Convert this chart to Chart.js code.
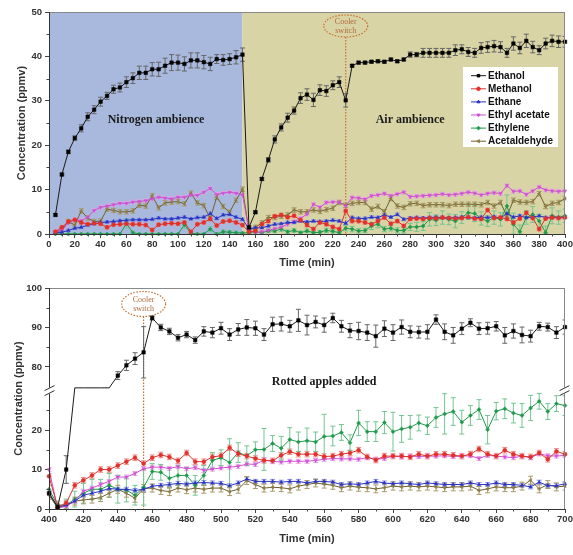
<!DOCTYPE html>
<html>
<head>
<meta charset="utf-8">
<script src="https://cdn.jsdelivr.net/npm/chart.js@4.4.0/dist/chart.umd.min.js"></script>
<style>
  html, body { margin: 0; padding: 0; background: #fff; }
  #top { position: absolute; left: 0; top: 0; width: 573px; height: 275px; }
  #bottom { position: absolute; left: 0; top: 275px; width: 573px; height: 280px; }
</style>
</head>
<body>
<div id="top"><canvas id="c1"></canvas></div>
<div id="bottom"><canvas id="c2"></canvas></div>
<script>
// ---- data ----
const seriesNames = ['Ethanol', 'Methanol', 'Ethane', 'Ethyl acetate', 'Ethylene', 'Acetaldehyde'];

const timeTop = [5, 10, 15, 20, 25, 30, 35, 40, 45, 50, 55, 60, 65, 70, 75, 80, 85, 90, 95, 100,
  105, 110, 115, 120, 125, 130, 135, 140, 145, 150, 155, 160, 165, 170, 175, 180, 185, 190, 195, 200,
  205, 210, 215, 220, 225, 230, 235, 240, 245, 250, 255, 260, 265, 270, 275, 280, 285, 290, 295, 300,
  305, 310, 315, 320, 325, 330, 335, 340, 345, 350, 355, 360, 365, 370, 375, 380, 385, 390, 395, 400];

const ethanolTop = [4.3, 13.4, 18.5, 21.6, 23.8, 26.4, 28.0, 29.8, 31.1, 32.6,
  33.0, 34.2, 35.1, 36.3, 36.3, 37.1, 37.1, 37.9, 38.6, 38.6,
  38.3, 39.1, 39.1, 38.7, 38.3, 39.4, 39.2, 39.4, 39.8, 40.4,
  1.5, 4.9, 12.4, 16.7, 21.3, 24.0, 26.2, 27.8, 30.6, 31.4,
  30.2, 32.4, 32.2, 33.5, 34.2, 30.1, 37.9, 38.6, 38.6, 38.8,
  38.9, 38.8, 39.3, 38.9, 39.3, 40.4, 40.4, 40.8, 40.8, 40.8,
  40.8, 40.8, 41.4, 41.6, 41.0, 40.8, 41.9, 42.1, 42.3, 42.1,
  40.8, 42.9, 41.9, 43.5, 42.1, 41.4, 42.9, 43.5, 43.3, 43.3];
const ethanolTopErr = [0.3, 0.3, 0.4, 0.5, 0.8, 0.9, 0.9, 1.0, 0.8, 0.9,
  1.0, 1.2, 1.2, 1.5, 1.5, 1.5, 1.6, 1.7, 1.8, 1.7,
  1.6, 1.7, 1.7, 1.5, 1.5, 1.0, 1.2, 1.2, 1.5, 1.5,
  0.3, 0.3, 0.3, 0.5, 0.8, 0.8, 1.0, 0.8, 1.2, 1.3,
  1.5, 1.2, 1.2, 1.0, 1.2, 1.5, 0.3, 0.3, 0.3, 0.3,
  0.3, 0.3, 0.3, 0.3, 0.3, 0.6, 0.5, 1.0, 1.0, 1.0,
  1.0, 1.0, 1.2, 1.0, 1.0, 1.0, 1.2, 1.2, 1.3, 1.2,
  1.0, 1.5, 1.3, 1.5, 1.3, 1.0, 1.2, 1.3, 1.3, 1.2];
const methanolTop = [0.5, 1.5, 2.8, 3.2, 2.6, 2.2, 2.4, 2.3, 1.5, 2.1,
  2.2, 2.3, 2.2, 2.2, 2.0, 0.9, 2.1, 2.3, 2.4, 2.3,
  2.6, 0.5, 2.2, 2.6, 3.4, 1.9, 2.8, 3.0, 2.6, 2.0,
  0.5, 0.7, 2.2, 2.9, 4.0, 4.3, 3.8, 4.1, 3.1, 2.0,
  1.1, 2.6, 2.2, 1.6, 1.1, 5.2, 2.9, 2.9, 2.6, 2.2,
  2.9, 3.7, 2.3, 2.9, 1.8, 3.4, 3.5, 3.4, 3.6, 3.5,
  3.7, 3.6, 3.5, 3.6, 3.8, 3.5, 3.4, 5.4, 3.6, 3.7,
  3.4, 2.6, 3.5, 4.8, 3.6, 1.1, 3.5, 3.7, 3.6, 3.7];
const ethaneTop = [0.3, 0.4, 0.8, 1.3, 1.5, 2.0, 2.3, 2.6, 2.7, 2.8,
  3.0, 3.1, 3.2, 3.2, 3.2, 3.3, 3.6, 3.4, 3.4, 3.6,
  3.8, 3.4, 3.7, 3.8, 4.6, 3.5, 4.3, 4.4, 3.8, 3.3,
  1.2, 1.4, 1.4, 1.8, 2.2, 2.3, 2.6, 2.6, 2.9, 2.7,
  2.9, 2.8, 2.9, 3.1, 2.9, 2.4, 3.7, 3.5, 3.5, 3.8,
  3.7, 4.3, 3.8, 4.4, 3.3, 3.6, 3.7, 3.6, 3.7, 3.8,
  3.7, 3.6, 3.7, 3.8, 3.7, 3.6, 3.8, 3.7, 3.9, 3.6,
  4.6, 3.8, 4.1, 3.7, 3.8, 4.1, 3.7, 3.8, 3.7, 3.8];
const ethylAcetateTop = [0.5, 0.8, 2.5, 3.2, 3.0, 3.8, 5.3, 6.0, 6.3, 6.6,
  6.9, 6.9, 7.2, 7.3, 7.5, 7.9, 8.3, 8.1, 7.9, 8.3,
  8.3, 8.8, 8.7, 9.4, 10.3, 8.9, 9.2, 9.4, 9.2, 8.8,
  0.8, 0.3, 0.5, 0.8, 1.2, 1.5, 2.2, 2.8, 3.5, 4.5,
  6.7, 6.0, 7.1, 7.2, 7.2, 6.3, 8.2, 8.1, 7.8, 8.6,
  8.8, 9.1, 8.6, 9.0, 9.4, 8.4, 8.5, 8.6, 8.7, 8.8,
  9.0, 8.8, 8.9, 9.1, 9.4, 9.2, 8.8, 9.1, 9.3, 9.1,
  10.9, 9.6, 9.7, 8.9, 9.7, 10.6, 9.9, 9.7, 9.6, 9.7];
const ethyleneTop = [0, 0, 0, 0, 0, 0, 0, 0, 0, 0,
  0, 2.4, 0.3, 0, 0, 0, 0, 0, 0, 0,
  2.1, 0.2, 0, 0, 1.1, 0, 0.5, 0.4, 0.3, 0.2,
  0.3, 0.5, 0.3, 0.7, 0.7, 1.1, 0.5, 0.8, 0.3, 0.7,
  0.3, 0.4, 0.8, 0.6, 0.3, 1.3, 1.1, 0.7, 0.8, 1.8,
  2.2, 1.1, 1.3, 0.8, 0.8, 1.6, 1.6, 1.8, 3.3, 3.1,
  3.7, 3.3, 2.9, 3.7, 4.8, 4.6, 3.5, 2.9, 3.7, 3.3,
  6.3, 2.2, 0.5, 3.7, 4.4, 2.9, 0.3, 4.1, 3.7, 4.1];
const ethyleneTopErr = [0.1, 0.1, 0.1, 0.1, 0.1, 0.1, 0.1, 0.1, 0.1, 0.1,
  0.1, 1.0, 0.3, 0.1, 0.1, 0.1, 0.1, 0.1, 0.1, 0.1,
  0.8, 0.2, 0.1, 0.1, 0.6, 0.1, 0.4, 0.4, 0.3, 0.2,
  0.3, 0.3, 0.3, 0.4, 0.4, 0.5, 0.4, 0.4, 0.3, 0.4,
  0.3, 0.4, 0.5, 0.4, 0.3, 0.6, 0.6, 0.5, 0.5, 0.8,
  0.8, 0.6, 0.6, 0.6, 0.6, 0.8, 1.0, 1.0, 1.5, 1.2,
  1.5, 1.2, 1.5, 1.3, 1.5, 1.8, 1.5, 1.2, 1.5, 1.5,
  2.5, 2.5, 1.5, 1.5, 1.8, 1.5, 1.5, 1.8, 1.5, 1.5];
const acetaldehydeTop = [0.3, 1.0, 2.8, 2.0, 5.2, 3.6, 2.8, 2.9, 5.6, 5.3,
  5.0, 5.0, 5.2, 6.5, 6.3, 8.6, 5.9, 7.0, 7.2, 7.3,
  6.8, 9.2, 7.0, 6.4, 3.5, 8.3, 6.2, 4.9, 7.6, 10.1,
  0.8, 1.5, 2.5, 3.7, 3.7, 4.0, 4.3, 5.4, 5.0, 5.0,
  5.4, 5.1, 5.5, 5.8, 7.1, 6.5, 6.9, 7.1, 7.1, 5.6,
  6.2, 5.0, 8.0, 6.3, 6.0, 6.8, 6.9, 6.4, 6.6, 6.6,
  6.6, 6.4, 6.7, 6.7, 6.7, 6.7, 6.6, 7.1, 6.3, 7.1,
  4.0, 7.6, 7.2, 7.1, 7.3, 9.1, 6.2, 6.9, 7.1, 8.0];

const timeBottom = [400, 405, 410, 415, 420, 425, 430, 435, 440, 445, 450, 455, 460, 465, 470, 475,
  480, 485, 490, 495, 500, 505, 510, 515, 520, 525, 530, 535, 540, 545, 550, 555, 560, 565, 570, 575,
  580, 585, 590, 595, 600, 605, 610, 615, 620, 625, 630, 635, 640, 645, 650, 655, 660, 665, 670, 675,
  680, 685, 690, 695, 700];

// ethanol went off-scale between 415 and 435 min: drawn flat at the axis break
const ethanolBottomClipped = [415, 420, 425, 430, 435];
const ethanolBottom = [4.0, 0.5, 10.0, 74.7, 74.7, 74.7, 74.7, 74.7, 77.8, 80.4,
  82.1, 83.7, 92.4, 90.0, 89.0, 87.4, 88.2, 86.8, 89.0, 88.7,
  89.8, 88.2, 89.5, 90.0, 89.8, 88.2, 90.8, 90.9, 90.3, 91.8,
  90.6, 91.4, 90.6, 92.4, 90.3, 89.2, 89.1, 88.7, 87.8, 89.7,
  88.7, 90.1, 88.9, 88.8, 88.9, 92.0, 88.9, 88.0, 89.7, 91.2,
  89.7, 89.8, 90.3, 88.0, 89.1, 88.1, 87.8, 90.3, 90.1, 88.7,
  90.1];
const ethanolBottomErr = [0.5, 0.3, 3.5, 0, 0, 0, 0, 0, 1.0, 1.3,
  1.5, 6.5, 0.5, 0.8, 0.8, 0.8, 0.8, 0.8, 1.2, 1.3,
  1.5, 1.5, 1.5, 2.0, 1.8, 1.5, 1.8, 1.8, 1.5, 2.8,
  2.5, 1.5, 1.8, 1.2, 1.5, 1.8, 2.2, 2.0, 2.8, 2.0,
  2.0, 1.8, 1.5, 1.5, 1.8, 1.2, 2.0, 2.0, 1.5, 1.0,
  1.5, 1.5, 1.2, 2.0, 1.8, 2.0, 1.5, 1.0, 1.0, 1.5,
  1.8];
const methanolBottom = [8.3, 0.5, 1.5, 6.0, 7.3, 8.5, 10.0, 10.0, 11.0, 12.0,
  13.0, 11.5, 13.0, 13.7, 13.2, 12.2, 14.2, 12.0, 12.0, 13.2,
  13.5, 15.5, 14.0, 13.4, 12.8, 12.3, 12.2, 13.6, 14.5, 13.9,
  13.9, 13.9, 13.3, 13.4, 13.9, 14.2, 14.9, 13.2, 12.4, 13.4,
  13.4, 13.4, 13.2, 13.9, 13.4, 13.9, 13.9, 13.6, 13.4, 13.9,
  15.2, 13.9, 13.4, 14.9, 13.9, 13.4, 13.2, 14.2, 12.6, 14.6,
  13.9];
const ethaneBottom = [4.1, 0.5, 1.0, 2.0, 3.5, 4.0, 4.5, 5.2, 5.0, 5.0,
  4.7, 5.0, 5.8, 6.0, 6.2, 6.5, 6.3, 6.6, 6.7, 6.6,
  6.5, 5.9, 6.6, 7.6, 7.0, 7.0, 7.0, 6.8, 7.0, 7.0,
  6.6, 7.0, 7.0, 6.8, 6.2, 6.4, 6.2, 6.6, 7.0, 6.6,
  6.4, 6.6, 6.4, 6.2, 6.6, 6.4, 6.2, 6.2, 6.2, 6.6,
  6.2, 6.2, 6.6, 6.2, 6.2, 6.0, 5.6, 6.8, 5.9, 5.9,
  6.4];
const ethylAcetateBottom = [10.0, 0.3, 0.7, 2.0, 4.5, 5.3, 6.2, 7.0, 8.1, 8.1,
  9.0, 10.2, 10.6, 10.6, 10.3, 10.7, 10.2, 10.5, 9.8, 10.1,
  10.4, 10.6, 10.8, 11.4, 11.3, 12.4, 12.1, 11.9, 12.1, 12.1,
  12.1, 12.3, 12.6, 12.8, 12.7, 12.7, 12.6, 13.0, 12.6, 12.8,
  13.4, 13.2, 13.4, 13.3, 13.4, 13.4, 13.5, 13.3, 13.4, 13.5,
  12.8, 13.6, 13.4, 13.2, 13.0, 13.4, 13.0, 14.0, 13.5, 13.4,
  13.6];
const ethyleneBottom = [5.0, 1.0, 1.0, 2.5, 4.0, 5.0, 5.0, 6.0, 5.0, 4.8,
  3.5, 5.5, 9.5, 9.3, 7.8, 8.5, 8.5, 6.0, 8.5, 12.3,
  13.0, 11.8, 14.3, 13.5, 15.0, 15.1, 16.6, 15.4, 17.6, 17.0,
  17.3, 17.0, 18.4, 18.5, 19.4, 16.8, 21.8, 19.6, 19.6, 21.9,
  19.6, 20.3, 20.7, 21.8, 21.1, 23.2, 24.1, 24.7, 22.0, 23.7,
  25.2, 20.1, 24.8, 25.4, 24.3, 23.7, 25.6, 27.3, 24.7, 26.7,
  26.2];
const ethyleneBottomErr = [1.0, 1.0, 1.5, 2.0, 2.5, 2.5, 2.5, 3.0, 3.5, 3.0,
  2.5, 4.5, 2.0, 2.0, 2.5, 2.5, 2.0, 2.5, 2.5, 2.0,
  2.0, 6.0, 2.5, 2.5, 2.0, 5.3, 2.0, 3.0, 3.0, 2.5,
  3.2, 2.5, 5.6, 2.5, 2.0, 2.0, 3.2, 2.5, 2.5, 2.8,
  4.9, 3.4, 3.0, 2.0, 2.2, 2.5, 5.1, 3.5, 3.0, 2.5,
  2.5, 3.6, 2.2, 2.5, 2.5, 3.0, 3.2, 2.0, 2.0, 2.0,
  2.5];
const acetaldehydeBottom = [3.5, 0.3, 0.8, 2.0, 2.3, 2.5, 2.9, 4.0, 5.0, 4.0,
  2.7, 5.2, 5.3, 4.7, 4.4, 5.3, 4.9, 5.3, 5.0, 5.3,
  5.3, 4.4, 5.0, 7.2, 6.2, 5.3, 5.5, 5.4, 5.1, 5.8,
  6.2, 6.6, 6.3, 6.0, 5.4, 5.8, 5.5, 5.4, 5.1, 5.4,
  5.8, 5.6, 5.8, 5.6, 5.8, 5.6, 5.4, 5.6, 5.6, 5.8,
  4.7, 5.1, 5.6, 5.4, 5.4, 5.8, 7.3, 5.1, 6.2, 5.6,
  5.8];

// small, fairly uniform error bars of the minor series
const topSmallErr = [null, 0.4, 0.3, 0.4, null, 0.5];
const bottomSmallErr = [null, 0.7, 0.5, 0.5, null, 1.0];

// ---- styles ----
const lineColors = ['#1a1a1a', '#e2312b', '#2933c4', '#d24fd4', '#1f9a4c', '#6e6030'];
const markerColors = ['#000000', '#e2312b', '#2933c4', '#d24fd4', '#1f9a4c', '#8c7c45'];
const errorColors = ['#666666', '#ef8d8a', '#8d92e2', '#e6a3e8', '#74c592', '#a8996a'];
const markerStyles = ['rect', 'circle', 'triangle', 'triangle', 'rectRot', 'triangle'];
const markerRotation = [0, 0, 0, 180, 0, -90];

// bottom panel: y axis broken between 30 and 74
const BREAK_LO = 30, BREAK_HI = 74;
const brk = v => v > BREAK_LO ? v - (BREAK_HI - BREAK_LO) : v;
const same = v => v;

const tickFont = { family: '"Liberation Sans", Arial, sans-serif', size: 9.5, weight: 'bold' };
const titleFont = { family: '"Liberation Sans", Arial, sans-serif', size: 11, weight: 'bold' };

function buildSets(time, series, errs, tf, clipped) {
  return series.map((vals, k) => ({
    label: seriesNames[k],
    data: time.map((t, i) => ({ x: t, y: tf(vals[i]) })),
    values: vals,
    errors: errs[k],
    errColor: errorColors[k],
    borderColor: lineColors[k],
    backgroundColor: markerColors[k],
    borderWidth: 1,
    pointStyle: markerStyles[k],
    pointRotation: markerRotation[k],
    pointRadius: (k === 0 && clipped)
      ? ctx => clipped.includes(time[ctx.dataIndex]) ? 0 : 2.5
      : (k === 0 ? 2.5 : 2),
    pointBorderWidth: 0.5,
    pointBorderColor: markerColors[k],
    tension: 0,
    clip: false
  }));
}

// error bars through the y scale
const errorBars = {
  id: 'errorBars',
  beforeDatasetsDraw(chart, args, opts) {
    const ctx = chart.ctx, ys = chart.scales.y, a = chart.chartArea;
    const tf = opts.broken ? brk : same;
    ctx.save();
    ctx.beginPath();
    ctx.rect(a.left, a.top, a.right - a.left, a.bottom - a.top);
    ctx.clip();
    chart.data.datasets.forEach((ds, di) => {
      if (ds.errors == null) return;
      const meta = chart.getDatasetMeta(di);
      ctx.strokeStyle = ds.errColor;
      ctx.lineWidth = 1;
      meta.data.forEach((pt, i) => {
        const e = Array.isArray(ds.errors) ? ds.errors[i] : ds.errors;
        if (!e) return;
        const v = ds.values[i];
        const y1 = ys.getPixelForValue(tf(v + e));
        const y2 = ys.getPixelForValue(tf(Math.max(v - e, 0)));
        const x = pt.x;
        ctx.beginPath();
        ctx.moveTo(x, y1); ctx.lineTo(x, y2);
        ctx.moveTo(x - 2.5, y1); ctx.lineTo(x + 2.5, y1);
        ctx.moveTo(x - 2.5, y2); ctx.lineTo(x + 2.5, y2);
        ctx.stroke();
      });
    });
    ctx.restore();
  }
};

// bands, cooler switch marker, text, legend, frame with break, minor ticks
const decor = {
  id: 'decor',
  beforeDatasetsDraw(chart, args, opts) {
    const { ctx, chartArea: a } = chart;
    const xs = chart.scales.x;
    ctx.save();
    (opts.bands || []).forEach(b => {
      const x1 = xs.getPixelForValue(b.from), x2 = xs.getPixelForValue(b.to);
      ctx.fillStyle = b.color;
      ctx.fillRect(x1, a.top, x2 - x1, a.bottom - a.top);
    });
    const c = opts.cooler;
    if (c) {
      const cx = xs.getPixelForValue(c.x);
      ctx.strokeStyle = '#c8702e';
      ctx.lineWidth = 1.2;
      ctx.setLineDash([1.5, 1.5]);
      ctx.beginPath();
      ctx.ellipse(cx, c.cy, c.rx, c.ry, 0, 0, Math.PI * 2);
      ctx.stroke();
      ctx.beginPath();
      ctx.moveTo(cx, c.cy + c.ry);
      ctx.lineTo(cx, a.bottom);
      ctx.stroke();
      ctx.setLineDash([]);
      ctx.fillStyle = '#b06a3c';
      ctx.font = '8px "Liberation Serif", serif';
      ctx.textAlign = 'center';
      ctx.textBaseline = 'middle';
      ctx.fillText('Cooler', cx, c.cy - 4.5);
      ctx.fillText('switch', cx, c.cy + 5);
    }
    ctx.restore();
  },
  afterDatasetsDraw(chart, args, opts) {
    const { ctx, chartArea: a } = chart;
    const xs = chart.scales.x, ys = chart.scales.y;
    ctx.save();
    ctx.fillStyle = '#1a1a1a';
    ctx.font = 'bold 12px "Liberation Serif", serif';
    ctx.textAlign = 'center';
    ctx.textBaseline = 'middle';
    (opts.labels || []).forEach(l => {
      ctx.fillText(l.text, xs.getPixelForValue(l.x), ys.getPixelForValue(l.y));
    });
    if (opts.legend) {
      const lx = a.right - 102, ly = a.top + 55;
      ctx.fillStyle = '#ffffff';
      ctx.fillRect(lx, ly, 95, 80);
      ctx.font = 'bold 10px "Liberation Sans", Arial, sans-serif';
      ctx.textAlign = 'left';
      chart.data.datasets.forEach((ds, k) => {
        const y = ly + 8.7 + k * 13.1;
        ctx.strokeStyle = ds.borderColor;
        ctx.lineWidth = 1;
        ctx.beginPath();
        ctx.moveTo(lx + 8, y); ctx.lineTo(lx + 23, y);
        ctx.stroke();
        ctx.fillStyle = ds.backgroundColor;
        ctx.strokeStyle = ds.backgroundColor;
        Chart.helpers.drawPoint(ctx, {
          pointStyle: ds.pointStyle, rotation: ds.pointRotation, radius: 1.8, borderWidth: 0.5
        }, lx + 15.5, y);
        ctx.fillStyle = '#111';
        ctx.fillText(ds.label, lx + 25, y + 0.5);
      });
    }
    ctx.restore();
  },
  afterDraw(chart, args, opts) {
    const { ctx, chartArea: a } = chart;
    const xs = chart.scales.x, ys = chart.scales.y;
    ctx.save();
    ctx.lineWidth = 1;
    const yb = opts.breakY != null ? ys.getPixelForValue(opts.breakY) : null;
    const vline = (x, color) => {
      ctx.strokeStyle = color;
      ctx.beginPath();
      if (yb == null) {
        ctx.moveTo(x, a.top); ctx.lineTo(x, a.bottom);
      } else {
        ctx.moveTo(x, a.top); ctx.lineTo(x, yb - 3);
        ctx.moveTo(x, yb + 3); ctx.lineTo(x, a.bottom);
      }
      ctx.stroke();
      if (yb != null) {
        ctx.strokeStyle = '#333';
        ctx.beginPath();
        [-2.5, 2.5].forEach(o => {
          ctx.moveTo(x - 5, yb + o + 2.5); ctx.lineTo(x + 5, yb + o - 2.5);
        });
        ctx.stroke();
      }
    };
    // top and right
    ctx.strokeStyle = '#888';
    ctx.beginPath();
    ctx.moveTo(a.left, a.top + 0.5); ctx.lineTo(a.right, a.top + 0.5);
    ctx.stroke();
    vline(Math.round(a.right) - 0.5, '#888');
    // left and bottom axis lines
    vline(Math.round(a.left) + 0.5, '#333');
    ctx.strokeStyle = '#333';
    ctx.beginPath();
    ctx.moveTo(a.left, Math.round(a.bottom) + 0.5); ctx.lineTo(a.right, Math.round(a.bottom) + 0.5);
    ctx.stroke();
    // minor ticks
    ctx.strokeStyle = '#444';
    ctx.beginPath();
    for (let v = xs.min + opts.minorX; v < xs.max; v += 2 * opts.minorX) {
      const x = Math.round(xs.getPixelForValue(v)) + 0.5;
      ctx.moveTo(x, a.bottom); ctx.lineTo(x, a.bottom + 2.5);
    }
    (opts.minorY || []).forEach(v => {
      const y = Math.round(ys.getPixelForValue(v)) + 0.5;
      ctx.moveTo(a.left, y); ctx.lineTo(a.left - 2.5, y);
    });
    ctx.stroke();
    ctx.restore();
  }
};

function scalesFor(xMin, xMax, yOpts, xHeight, xTitlePad, yTitlePad) {
  return {
    x: {
      type: 'linear', min: xMin, max: xMax,
      ticks: { stepSize: 20, font: tickFont, color: '#333', padding: 1, maxRotation: 0, autoSkip: false },
      grid: { drawOnChartArea: false, tickLength: 4, color: '#444' },
      border: { display: false },
      title: { display: true, text: 'Time (min)', font: titleFont, color: '#333', padding: { top: 0, bottom: xTitlePad } },
      afterFit(s) { s.height = xHeight; s.paddingLeft = 0; s.paddingRight = 0; }
    },
    y: Object.assign({
      type: 'linear',
      grid: { drawOnChartArea: false, tickLength: 4, color: '#444' },
      border: { display: false },
      title: { display: true, text: 'Concentration (ppmv)', font: titleFont, color: '#333', padding: { top: yTitlePad, bottom: 0 } },
      afterFit(s) { s.width = 49; }
    }, yOpts)
  };
}

const baseOptions = {
  responsive: true,
  maintainAspectRatio: false,
  animation: false,
  events: [],
  plugins: { legend: { display: false }, tooltip: { enabled: false } }
};

// ---- top panel ----
new Chart(document.getElementById('c1'), {
  type: 'line',
  data: {
    datasets: buildSets(timeTop,
      [ethanolTop, methanolTop, ethaneTop, ethylAcetateTop, ethyleneTop, acetaldehydeTop],
      [ethanolTopErr, topSmallErr[1], topSmallErr[2], topSmallErr[3], ethyleneTopErr, topSmallErr[5]],
      same, null)
  },
  options: Object.assign({}, baseOptions, {
    layout: { padding: { top: 12, right: 8, left: 0, bottom: 0 } },
    scales: scalesFor(0, 400, {
      min: 0, max: 50,
      ticks: { stepSize: 10, font: tickFont, color: '#333', padding: 3 }
    }, 41, 5, 15),
    plugins: Object.assign({}, baseOptions.plugins, {
      errorBars: { broken: false },
      decor: {
        bands: [{ from: 0, to: 150, color: '#a9b9dd' }, { from: 150, to: 400, color: '#d8d4a5' }],
        cooler: { x: 230, cy: 26, rx: 22, ry: 11 },
        labels: [{ text: 'Nitrogen ambience', x: 83, y: 25.6 }, { text: 'Air ambience', x: 280, y: 25.8 }],
        legend: true,
        breakY: null,
        minorX: 10,
        minorY: [5, 15, 25, 35, 45]
      }
    })
  }),
  plugins: [decor, errorBars]
});

// ---- bottom panel ----
new Chart(document.getElementById('c2'), {
  type: 'line',
  data: {
    datasets: buildSets(timeBottom,
      [ethanolBottom, methanolBottom, ethaneBottom, ethylAcetateBottom, ethyleneBottom, acetaldehydeBottom],
      [ethanolBottomErr, bottomSmallErr[1], bottomSmallErr[2], bottomSmallErr[3], ethyleneBottomErr, bottomSmallErr[5]],
      brk, ethanolBottomClipped)
  },
  options: Object.assign({}, baseOptions, {
    layout: { padding: { top: 13, right: 8, left: 0, bottom: 0 } },
    scales: scalesFor(400, 700, {
      min: 0, max: brk(100),
      afterBuildTicks(s) { s.ticks = [0, 10, 20, 80, 90, 100].map(v => ({ value: brk(v) })); },
      ticks: { font: tickFont, color: '#333', padding: 3, callback: v => v <= BREAK_LO ? v : v + (BREAK_HI - BREAK_LO) }
    }, 46, 9, 12),
    plugins: Object.assign({}, baseOptions.plugins, {
      errorBars: { broken: true },
      decor: {
        bands: [],
        cooler: { x: 455, cy: 29, rx: 22, ry: 12.5 },
        labels: [{ text: 'Rotted apples added', x: 560, y: 32.3 }],
        legend: false,
        breakY: BREAK_LO,
        minorX: 10,
        minorY: [5, 15, 25, 41, 51]
      }
    })
  }),
  plugins: [decor, errorBars]
});
</script>
</body>
</html>
